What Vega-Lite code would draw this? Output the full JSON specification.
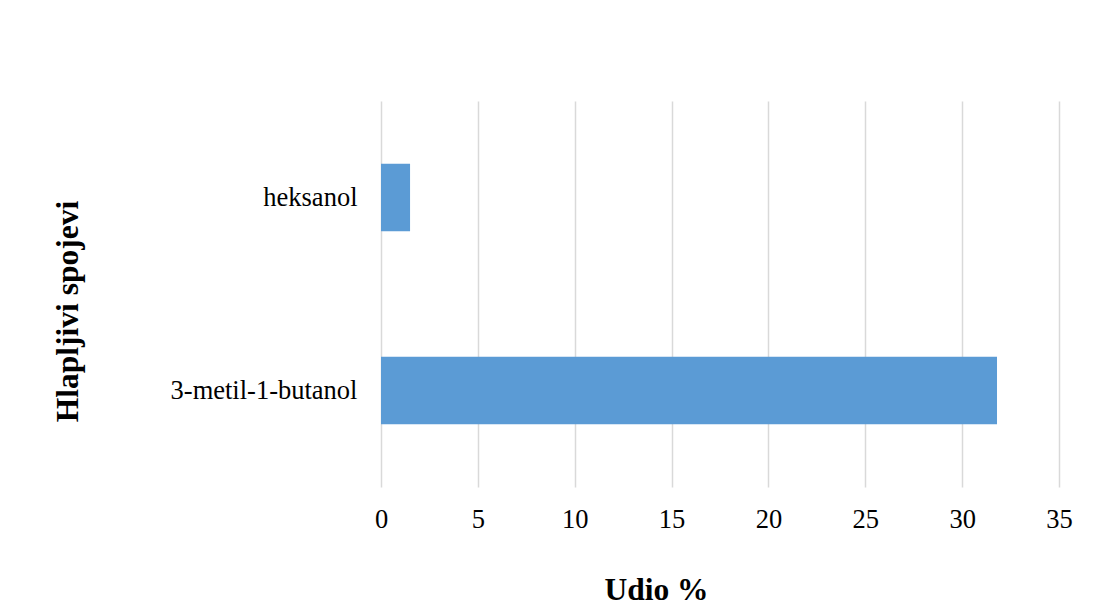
{
  "$schema": "https://vega.github.io/schema/vega-lite/v6.json",
  "autosize": {"type": "none"},
  "padding": {"left": 381, "top": 101, "right": 35, "bottom": 119},
  "width": 678,
  "height": 386,
  "background": "white",
  "config": {
    "view": {"stroke": null},
    "font": "Liberation Serif"
  },
  "data": {
    "values": [
      {"spoj": "3-metil-1-butanol", "udio": 31.8},
      {"spoj": "heksanol", "udio": 1.5}
    ]
  },
  "mark": {"type": "bar", "color": "#5b9bd5"},
  "encoding": {
    "y": {
      "field": "spoj",
      "type": "nominal",
      "sort": ["heksanol", "3-metil-1-butanol"],
      "scale": {"paddingInner": 0.65, "paddingOuter": 0.325},
      "axis": {
        "title": "Hlapljivi spojevi",
        "titleFont": "Liberation Serif",
        "titleFontSize": 31.5,
        "titleFontWeight": "bold",
        "titleColor": "#000000",
        "titleAngle": -90,
        "titleAlign": "center",
        "titleBaseline": "middle",
        "titleX": -313,
        "titleY": 210,
        "labelFont": "Liberation Serif",
        "labelFontSize": 26.5,
        "labelColor": "#000000",
        "labelPadding": 24,
        "labelLimit": 400,
        "ticks": false,
        "domain": false,
        "grid": false
      }
    },
    "x": {
      "field": "udio",
      "type": "quantitative",
      "scale": {"domain": [0, 35], "nice": false},
      "axis": {
        "title": "Udio %",
        "values": [0, 5, 10, 15, 20, 25, 30, 35],
        "titleFont": "Liberation Serif",
        "titleFontSize": 31.5,
        "titleFontWeight": "bold",
        "titleColor": "#000000",
        "titleAlign": "center",
        "titleBaseline": "middle",
        "titleX": 275,
        "titleY": 103,
        "labelFont": "Liberation Serif",
        "labelFontSize": 26.5,
        "labelColor": "#000000",
        "labelPadding": 32,
        "labelBaseline": "middle",
        "labelFlush": false,
        "labelOverlap": false,
        "ticks": false,
        "domain": false,
        "grid": true,
        "gridColor": "#d9d9d9",
        "gridWidth": 1.5
      }
    }
  }
}
